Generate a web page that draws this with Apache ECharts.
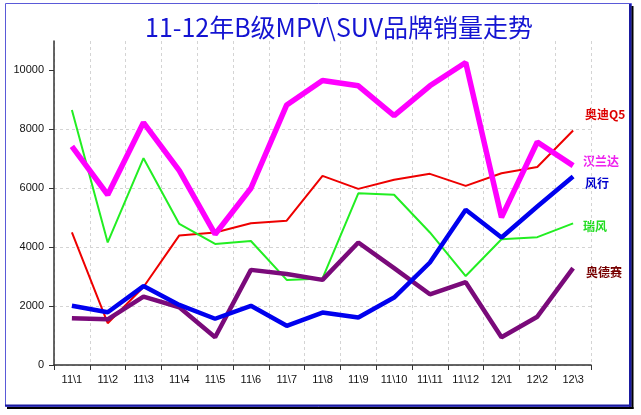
<!DOCTYPE html>
<html>
<head>
<meta charset="utf-8">
<script src="https://cdn.jsdelivr.net/npm/echarts@6/dist/echarts.min.js"></script>
<style>
html,body{margin:0;padding:0;background:#fff;}
#main{width:641px;height:415px;}
</style>
</head>
<body>
<div id="main"></div>
<script>
const categories = ['11\\1','11\\2','11\\3','11\\4','11\\5','11\\6','11\\7','11\\8','11\\9','11\\10','11\\11','11\\12','12\\1','12\\2','12\\3'];
const audiQ5   = [4500,1420,2650,4400,4500,4810,4900,6420,5980,6290,6490,6080,6510,6720,7960];
const ruifeng  = [8660,4160,7020,4790,4110,4210,2890,2940,5830,5780,4500,3020,4270,4340,4810];
const odyssey  = [1590,1550,2320,1960,940,3230,3090,2890,4160,3290,2400,2810,940,1640,3290];
const fengxing = [2010,1790,2680,2040,1570,2010,1330,1780,1610,2290,3480,5270,4330,5380,6400];
const highlander = [7420,5780,8230,6600,4440,6000,8830,9660,9480,8470,9480,10270,5010,7570,6770];
const yTicks = [0,2000,4000,6000,8000,10000];

const chart = echarts.init(document.getElementById('main'), null, {renderer:'canvas'});
const labelFont = '"Noto Sans CJK SC", sans-serif';
function mk(name, data, color, width) {
  return {name:name, type:'line', data:data, symbol:'none', smooth:false,
    lineStyle:{color:color, width:width}, itemStyle:{color:color}};
}
chart.setOption({
  backgroundColor:'#ffffff',
  animation:false,
  title:{
    text:'11-12年B级MPV\\SUV品牌销量走势',
    left:140, top:10,
    textStyle:{color:'#1414d2', fontSize:25, fontWeight:'normal', fontFamily:labelFont}
  },
  grid:{left:54, right:50, top:41, bottom:50},
  xAxis:{
    type:'category', data:categories, boundaryGap:true,
    axisLine:{lineStyle:{color:'#333', width:1.5}},
    axisTick:{show:true, length:5, inside:false, lineStyle:{color:'#333'}},
    axisLabel:{color:'#111', fontSize:11, fontFamily:'"Liberation Sans", sans-serif', margin:9, interval:0},
    splitLine:{show:true, interval:0, lineStyle:{color:'#d4d4d4', type:[3,3]}}
  },
  yAxis:{
    type:'value', min:0, max:11000, interval:2000,
    axisLine:{show:true, lineStyle:{color:'#333', width:1.5}},
    axisTick:{show:true, length:5, lineStyle:{color:'#333'}, customValues:yTicks},
    axisLabel:{color:'#111', fontSize:11, fontFamily:'"Liberation Sans", sans-serif', margin:10, customValues:yTicks,
      formatter:function(v){return String(v);}},
    splitLine:{show:true, showMaxLine:false, lineStyle:{color:'#d4d4d4', type:[3,3]}}
  },
  series:[
    mk('奥迪Q5', audiQ5, '#ee0000', 2),
    mk('瑞风', ruifeng, '#22ee22', 2),
    mk('奥德赛', odyssey, '#7a0a7a', 4.5),
    mk('风行', fengxing, '#0000ee', 4.5),
    mk('汉兰达', highlander, '#ff00ff', 5.5)
  ],
  graphic:[
    {type:'rect', shape:{x:5.5, y:3.5, width:626, height:403}, style:{fill:null, stroke:'#5a5ad8', lineWidth:1}, silent:true},
    {type:'line', shape:{x1:630, y1:4, x2:630, y2:407}, style:{stroke:'#1a1aa0', lineWidth:2}, silent:true},
    {type:'line', shape:{x1:5, y1:405.5, x2:631, y2:405.5}, style:{stroke:'#1a1aa0', lineWidth:2}, silent:true},
    {type:'line', shape:{x1:632.5, y1:6, x2:632.5, y2:409}, style:{stroke:'#000', lineWidth:2}, silent:true},
    {type:'line', shape:{x1:7, y1:408, x2:633.5, y2:408}, style:{stroke:'#000', lineWidth:2}, silent:true},
    {type:'text', left:585, top:108, style:{text:'奥迪Q5', fill:'#dd0000', font:'bold 12px "Noto Sans CJK SC"'}},
    {type:'text', left:583, top:155, style:{text:'汉兰达', fill:'#ee22ee', font:'bold 12px "Noto Sans CJK SC"'}},
    {type:'text', left:585, top:177, style:{text:'风行', fill:'#0000cc', font:'bold 12px "Noto Sans CJK SC"'}},
    {type:'text', left:583, top:220, style:{text:'瑞风', fill:'#22dd22', font:'bold 12px "Noto Sans CJK SC"'}},
    {type:'text', left:586, top:266, style:{text:'奥德赛', fill:'#770000', font:'bold 12px "Noto Sans CJK SC"'}}
  ]
});
</script>
</body>
</html>
